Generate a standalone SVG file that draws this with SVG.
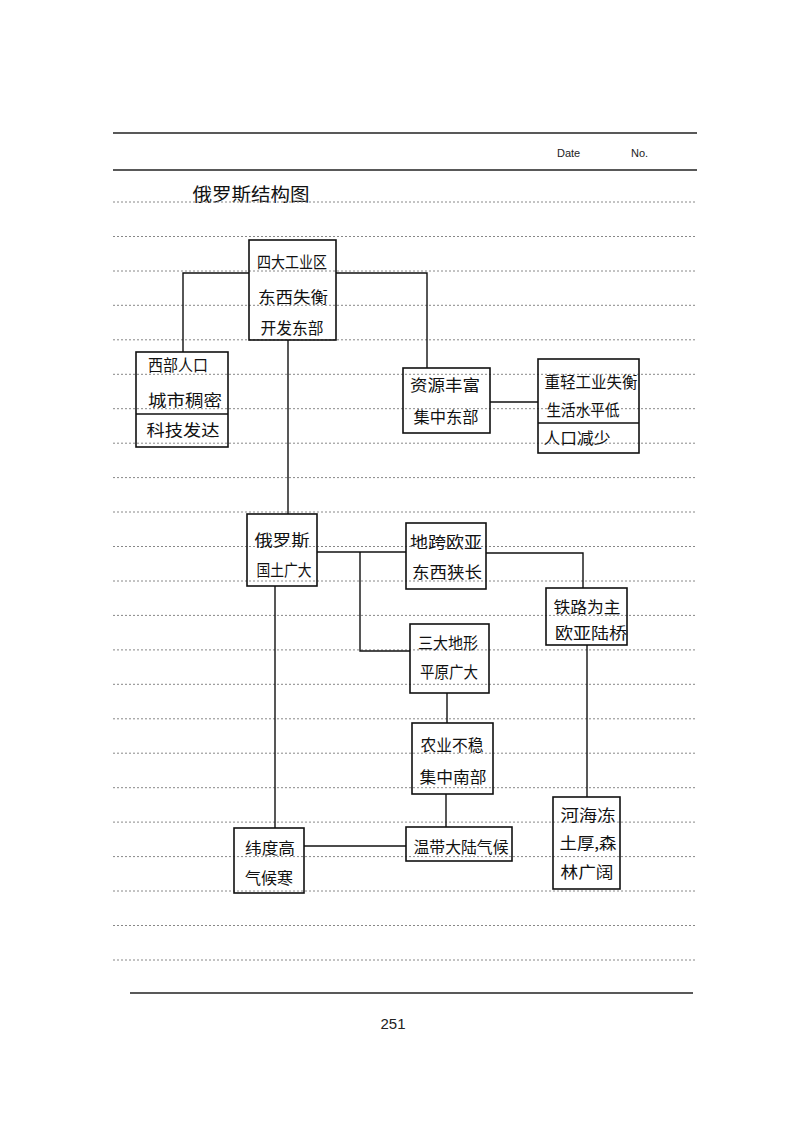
<svg xmlns="http://www.w3.org/2000/svg" width="800" height="1132" viewBox="0 0 800 1132">
<style>
.bg{fill:#ffffff}
.rule{stroke:#222;stroke-width:1.6;fill:none}
.dot{stroke:#888;stroke-width:1;stroke-dasharray:2 2;fill:none}
.box{fill:none;stroke:#111;stroke-width:1.6}
.div{stroke:#111;stroke-width:1.4}
.conn line,.conn polyline{fill:none;stroke:#111;stroke-width:1.4}
.t{font-family:"Noto Sans CJK SC","Noto Sans CJK JP",sans-serif;font-size:16px;fill:#111;text-anchor:middle}
.hdr{font-family:"Liberation Sans",Arial,sans-serif;font-size:11px;fill:#222}
.pg{font-family:"Liberation Sans",Arial,sans-serif;font-size:15px;fill:#222;text-anchor:middle}
</style>
<rect class="bg" x="0" y="0" width="800" height="1132"/>
<g id="page">
<line class="rule" x1="113" y1="133" x2="697" y2="133"/>
<line class="rule" x1="113" y1="170" x2="697" y2="170"/>
<text class="hdr" x="557" y="157">Date</text>
<text class="hdr" x="631" y="157">No.</text>
<text x="251" y="201" style="font-family:'Noto Sans CJK SC',sans-serif;font-size:18px;fill:#111;text-anchor:middle" textLength="117" lengthAdjust="spacingAndGlyphs">俄罗斯结构图</text>
<g id="dotted-lines">
<line class="dot" x1="113" y1="202" x2="697" y2="202"/>
<line class="dot" x1="113" y1="236.5" x2="697" y2="236.5"/>
<line class="dot" x1="113" y1="271" x2="697" y2="271"/>
<line class="dot" x1="113" y1="305.3" x2="697" y2="305.3"/>
<line class="dot" x1="113" y1="339.8" x2="697" y2="339.8"/>
<line class="dot" x1="113" y1="374.3" x2="697" y2="374.3"/>
<line class="dot" x1="113" y1="408.7" x2="697" y2="408.7"/>
<line class="dot" x1="113" y1="443.2" x2="697" y2="443.2"/>
<line class="dot" x1="113" y1="477.6" x2="697" y2="477.6"/>
<line class="dot" x1="113" y1="512" x2="697" y2="512"/>
<line class="dot" x1="113" y1="546.5" x2="697" y2="546.5"/>
<line class="dot" x1="113" y1="581" x2="697" y2="581"/>
<line class="dot" x1="113" y1="615.4" x2="697" y2="615.4"/>
<line class="dot" x1="113" y1="649.9" x2="697" y2="649.9"/>
<line class="dot" x1="113" y1="684.3" x2="697" y2="684.3"/>
<line class="dot" x1="113" y1="718.8" x2="697" y2="718.8"/>
<line class="dot" x1="113" y1="753.2" x2="697" y2="753.2"/>
<line class="dot" x1="113" y1="787.7" x2="697" y2="787.7"/>
<line class="dot" x1="113" y1="822.1" x2="697" y2="822.1"/>
<line class="dot" x1="113" y1="856.6" x2="697" y2="856.6"/>
<line class="dot" x1="113" y1="891" x2="697" y2="891"/>
<line class="dot" x1="113" y1="925.5" x2="697" y2="925.5"/>
<line class="dot" x1="113" y1="960" x2="697" y2="960"/>
</g>
<line class="rule" x1="130" y1="993" x2="693" y2="993"/>
<text class="pg" x="393" y="1029">251</text>
</g>
<g id="connectors" class="conn">
<polyline points="249,273 183,273 183,352"/>
<polyline points="336,273 427,273 427,368"/>
<line x1="490" y1="402" x2="538" y2="402"/>
<line x1="288" y1="340" x2="288" y2="514"/>
<line x1="317" y1="552" x2="406" y2="552"/>
<polyline points="360,552 360,651 410,651"/>
<polyline points="486,553 583,553 583,588"/>
<line x1="447" y1="693" x2="447" y2="723"/>
<line x1="446" y1="794" x2="446" y2="827"/>
<line x1="275" y1="586" x2="275" y2="828"/>
<line x1="304" y1="846" x2="406" y2="846"/>
<line x1="587" y1="645" x2="587" y2="797"/>
</g>
<g id="n-industry">
<rect class="box" x="249" y="240" width="87" height="100"/>
<text class="t" x="292" y="268" textLength="70" lengthAdjust="spacingAndGlyphs">四大工业区</text>
<text class="t" x="293" y="303" textLength="70" lengthAdjust="spacingAndGlyphs">东西失衡</text>
<text class="t" x="292" y="334" textLength="63" lengthAdjust="spacingAndGlyphs">开发东部</text>
</g>
<g id="n-west">
<rect class="box" x="136" y="352" width="92" height="95"/>
<line class="div" x1="136" y1="414" x2="228" y2="414"/>
<text class="t" x="178" y="371" textLength="60" lengthAdjust="spacingAndGlyphs">西部人口</text>
<text class="t" x="185" y="406" textLength="74" lengthAdjust="spacingAndGlyphs">城市稠密</text>
<text class="t" x="183" y="436" textLength="73" lengthAdjust="spacingAndGlyphs">科技发达</text>
</g>
<g id="n-resource">
<rect class="box" x="403" y="368" width="87" height="65"/>
<text class="t" x="445" y="391" textLength="70" lengthAdjust="spacingAndGlyphs">资源丰富</text>
<text class="t" x="446" y="423" textLength="65" lengthAdjust="spacingAndGlyphs">集中东部</text>
</g>
<g id="n-imbalance">
<rect class="box" x="538" y="359" width="101" height="94"/>
<line class="div" x1="538" y1="423" x2="639" y2="423"/>
<text class="t" x="591" y="388" textLength="93" lengthAdjust="spacingAndGlyphs">重轻工业失衡</text>
<text class="t" x="583" y="416" textLength="73" lengthAdjust="spacingAndGlyphs">生活水平低</text>
<text class="t" x="577" y="444" textLength="67" lengthAdjust="spacingAndGlyphs">人口减少</text>
</g>
<g id="n-russia">
<rect class="box" x="247" y="514" width="70" height="72"/>
<text class="t" x="282" y="546" textLength="55" lengthAdjust="spacingAndGlyphs">俄罗斯</text>
<text class="t" x="284" y="576" textLength="55" lengthAdjust="spacingAndGlyphs">国土广大</text>
</g>
<g id="n-eurasia">
<rect class="box" x="406" y="523" width="80" height="66"/>
<text class="t" x="446" y="548" textLength="72" lengthAdjust="spacingAndGlyphs">地跨欧亚</text>
<text class="t" x="447" y="578" textLength="70" lengthAdjust="spacingAndGlyphs">东西狭长</text>
</g>
<g id="n-railway">
<rect class="box" x="546" y="588" width="81" height="57"/>
<text class="t" x="587" y="613" textLength="67" lengthAdjust="spacingAndGlyphs">铁路为主</text>
<text class="t" x="591" y="639" textLength="72" lengthAdjust="spacingAndGlyphs">欧亚陆桥</text>
</g>
<g id="n-terrain">
<rect class="box" x="410" y="624" width="79" height="69"/>
<text class="t" x="448" y="649" textLength="60" lengthAdjust="spacingAndGlyphs">三大地形</text>
<text class="t" x="449" y="678" textLength="58" lengthAdjust="spacingAndGlyphs">平原广大</text>
</g>
<g id="n-agri">
<rect class="box" x="412" y="723" width="81" height="71"/>
<text class="t" x="452" y="751" textLength="63" lengthAdjust="spacingAndGlyphs">农业不稳</text>
<text class="t" x="453" y="783" textLength="67" lengthAdjust="spacingAndGlyphs">集中南部</text>
</g>
<g id="n-climate">
<rect class="box" x="406" y="827" width="106" height="34"/>
<text class="t" x="461" y="853" textLength="95" lengthAdjust="spacingAndGlyphs">温带大陆气候</text>
</g>
<g id="n-cold">
<rect class="box" x="234" y="828" width="70" height="65"/>
<text class="t" x="270" y="854" textLength="50" lengthAdjust="spacingAndGlyphs">纬度高</text>
<text class="t" x="269" y="884" textLength="48" lengthAdjust="spacingAndGlyphs">气候寒</text>
</g>
<g id="n-frozen">
<rect class="box" x="553" y="797" width="67" height="92"/>
<text class="t" x="588" y="821" textLength="55" lengthAdjust="spacingAndGlyphs">河海冻</text>
<text class="t" x="588" y="849" textLength="57" lengthAdjust="spacingAndGlyphs">土厚,森</text>
<text class="t" x="587" y="878" textLength="53" lengthAdjust="spacingAndGlyphs">林广阔</text>
</g>
</svg>
